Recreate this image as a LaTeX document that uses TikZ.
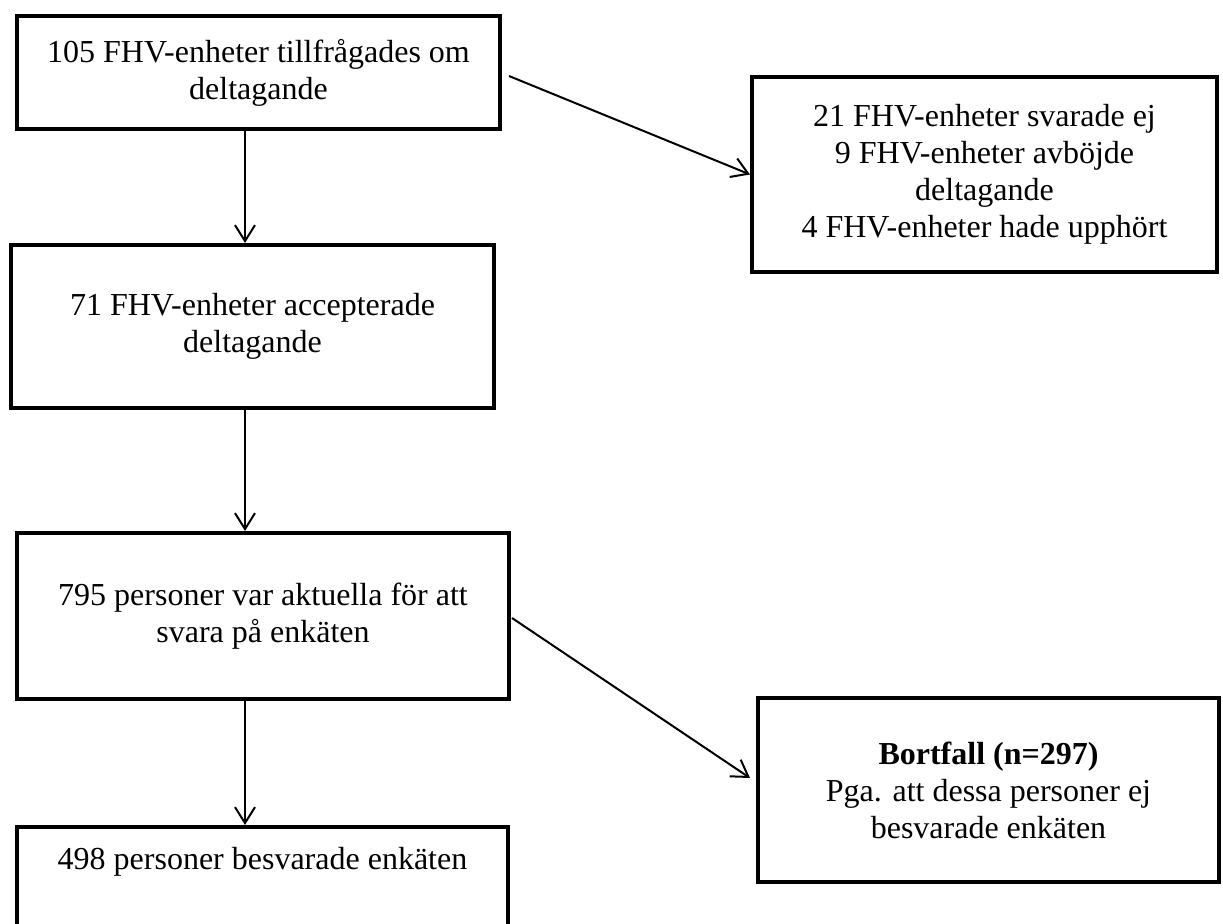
\documentclass[tikz,border=0pt]{standalone}
\usepackage{fontspec}
\setmainfont{Liberation Serif}
\usetikzlibrary{arrows.meta,calc}
\begin{document}
\begin{tikzpicture}[x=0.5pt,y=-0.5pt,
  box/.style={draw=black, line width=2pt, inner sep=0pt, align=center,
    font=\fontsize{16pt}{18.5pt}\selectfont},
  txt/.style={inner sep=0pt, align=center, font=\fontsize{16pt}{18.5pt}\selectfont},
  arr/.style={draw=black, line width=1pt, -{Straight Barb[length=8pt,width=10pt]}}
]
\clip (0,0) rectangle (1223,924);
\fill[white] (0,0) rectangle (1223,924);

% boxes
\node[box, minimum width=241.5pt, minimum height=56.5pt] (b1) at (258.5,72.5)
  {105 FHV-enheter tillfrågades om\\deltagande};
\node[box, minimum width=232.5pt, minimum height=97.5pt] (b2) at (984.5,174.5)
  {21 FHV-enheter svarade ej\\9 FHV-enheter avböjde\\deltagande\\4 FHV-enheter hade upphört};
\node[box, minimum width=241.5pt, minimum height=81.5pt] (b3) at (252.5,326.5)
  {71 FHV-enheter accepterade\\deltagande};
\node[box, minimum width=246pt, minimum height=83pt] (b4) at (263,616)
  {795 personer var aktuella för att\\svara på enkäten};
\node[box, minimum width=230.5pt, minimum height=92pt] (b5) at (988.5,790)
  {\textbf{Bortfall (n=297)}\\Pga. att dessa personer ej\\besvarade enkäten};
\node[box, minimum width=245.5pt, minimum height=86.5pt] (b6) at (262.5,913.5) {};
\node[txt, anchor=base] (t6) at (262.5,870) {498 personer besvarade enkäten};

% connectors
\coordinate (ax) at (245,0);
\coordinate (s2) at (509,76);
\coordinate (s4) at (512,618);
\draw[arr] (b1.south -| ax) -- (b3.north -| ax);
\draw[arr] (s2) -- (b2.west);
\draw[arr] (b3.south -| ax) -- (b4.north -| ax);
\draw[arr] (s4) -- ($(b5.west)+(-6,-12)$);
\draw[arr] (b4.south -| ax) -- (b6.north -| ax);
\end{tikzpicture}
\end{document}
